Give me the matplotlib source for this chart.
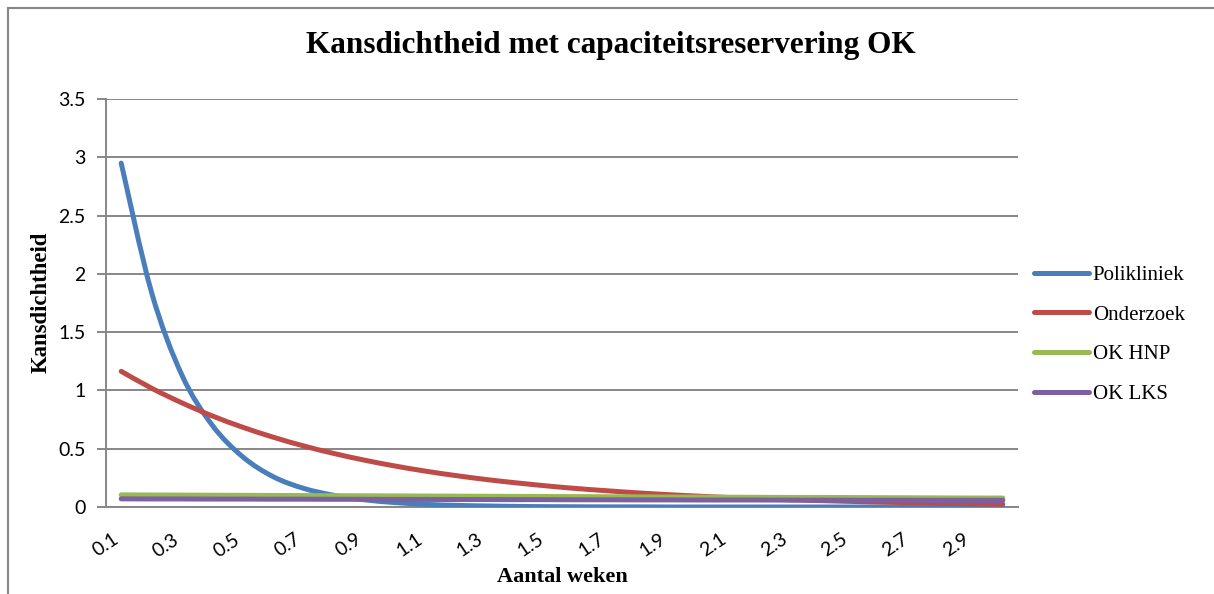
import numpy as np
import matplotlib.pyplot as plt
from matplotlib.lines import Line2D
from matplotlib.path import Path
from matplotlib.patches import PathPatch
from matplotlib.transforms import ScaledTranslation

# weeks 0.1 .. 3.0
weeks = ['0.1', '0.2', '0.3', '0.4', '0.5', '0.6', '0.7', '0.8', '0.9', '1',
         '1.1', '1.2', '1.3', '1.4', '1.5', '1.6', '1.7', '1.8', '1.9', '2',
         '2.1', '2.2', '2.3', '2.4', '2.5', '2.6', '2.7', '2.8', '2.9', '3']

polikliniek = [2.95, 1.84, 1.13, 0.70, 0.43, 0.26, 0.16, 0.10, 0.062, 0.038,
               0.023, 0.014, 0.009, 0.005, 0.003, 0.002, 0.001, 0.001, 0.0, 0.0,
               0.0, 0.0, 0.0, 0.0, 0.0, 0.0, 0.0, 0.0, 0.0, 0.0]
onderzoek = [1.164, 1.019, 0.893, 0.781, 0.684, 0.599, 0.524, 0.459, 0.402, 0.352,
             0.308, 0.270, 0.236, 0.207, 0.181, 0.158, 0.139, 0.121, 0.106, 0.093,
             0.081, 0.071, 0.062, 0.055, 0.048, 0.042, 0.037, 0.032, 0.028, 0.025]
ok_hnp = [0.104, 0.103, 0.102, 0.101, 0.100, 0.099, 0.098, 0.097, 0.096, 0.095,
          0.094, 0.093, 0.092, 0.091, 0.090, 0.089, 0.088, 0.087, 0.086, 0.085,
          0.084, 0.083, 0.082, 0.082, 0.081, 0.080, 0.079, 0.078, 0.077, 0.077]
ok_lks = [0.070, 0.069, 0.069, 0.068, 0.068, 0.067, 0.067, 0.066, 0.066, 0.065,
          0.065, 0.064, 0.064, 0.063, 0.063, 0.062, 0.062, 0.061, 0.061, 0.060,
          0.060, 0.060, 0.059, 0.059, 0.058, 0.058, 0.058, 0.057, 0.057, 0.057]

series = [('Polikliniek', polikliniek, '#4A7EBB'),
          ('Onderzoek', onderzoek, '#BE4B48'),
          ('OK HNP', ok_hnp, '#98B954'),
          ('OK LKS', ok_lks, '#7D60A0')]

W, H = 1214, 594
serif = 'Liberation Serif'
grey = '#878787'


def smooth_path(xs, ys):
    # Excel-style smoothed line: cubic Bezier segments through the data points
    p = np.column_stack([xs, ys]).astype(float)
    verts = [p[0]]
    codes = [Path.MOVETO]
    n = len(p)
    for i in range(n - 1):
        p0 = p[max(i - 1, 0)]
        p1, p2 = p[i], p[i + 1]
        p3 = p[min(i + 2, n - 1)]
        verts += [p1 + (p2 - p0) / 6, p2 - (p3 - p1) / 6, p2]
        codes += [Path.CURVE4] * 3
    return Path(verts, codes)


fig = plt.figure(figsize=(W / 100, H / 100), dpi=100)
ax = fig.add_axes([106 / W, 1 - 507 / H, (1018 - 106) / W, (507 - 99) / H])

x = np.arange(len(weeks))
handles = []
for name, vals, col in series:
    ax.add_patch(PathPatch(smooth_path(x, vals), fill=False, edgecolor=col, lw=3.6,
                           capstyle='round', joinstyle='round', zorder=3))
    handles.append(Line2D([], [], color=col, lw=3.6, solid_capstyle='round', label=name))

ax.set_xlim(-0.5, len(weeks) - 0.5)
ax.set_ylim(0, 3.5)
ax.set_yticks(np.arange(0, 3.51, 0.5))
ax.set_yticklabels(['0', '0.5', '1', '1.5', '2', '2.5', '3', '3.5'],
                   fontfamily='Lato', fontsize=14)
ax.set_xticks(x[::2])
ax.set_xticklabels(weeks[::2], rotation=34, ha='right', va='top',
                   fontfamily='Lato', fontsize=14)
shift = ScaledTranslation(5 / 100, 0, fig.dpi_scale_trans)
for lbl in ax.get_xticklabels():
    lbl.set_transform(lbl.get_transform() + shift)
ax.tick_params(axis='x', length=0, pad=17)
ax.tick_params(axis='y', length=6.5, width=1.4, color=grey, pad=8)
ax.yaxis.grid(True, color=grey, lw=1.4)
ax.set_axisbelow(True)
for s in ['top', 'right']:
    ax.spines[s].set_visible(False)
for s in ['left', 'bottom']:
    ax.spines[s].set_color(grey)
    ax.spines[s].set_linewidth(1.4)

fig.text(611 / W, 1 - 45 / H, 'Kansdichtheid met capaciteitsreservering OK',
         ha='center', va='center', fontfamily=serif, fontweight='bold', fontsize=22.5)
fig.text(41 / W, 1 - 302 / H, 'Kansdichtheid', rotation=90, ha='center', va='center',
         fontfamily=serif, fontweight='bold', fontsize=16.4)
fig.text(562 / W, 1 - 577 / H, 'Aantal weken', ha='center', va='center',
         fontfamily=serif, fontweight='bold', fontsize=16)

fig.legend(handles=handles, loc='upper left', bbox_to_anchor=(1026 / W, 1 - 257 / H),
           frameon=False, prop={'family': serif, 'size': 15}, handlelength=2.6,
           handletextpad=0.2, labelspacing=0.97, borderaxespad=0)

# outer chart frame
fig.add_artist(Line2D([8 / W, 8 / W], [0, 1 - 8 / H], color=grey, lw=1.5))
fig.add_artist(Line2D([8 / W, 1], [1 - 8 / H, 1 - 8 / H], color=grey, lw=1.5))

fig.savefig('out.png', dpi=100)
